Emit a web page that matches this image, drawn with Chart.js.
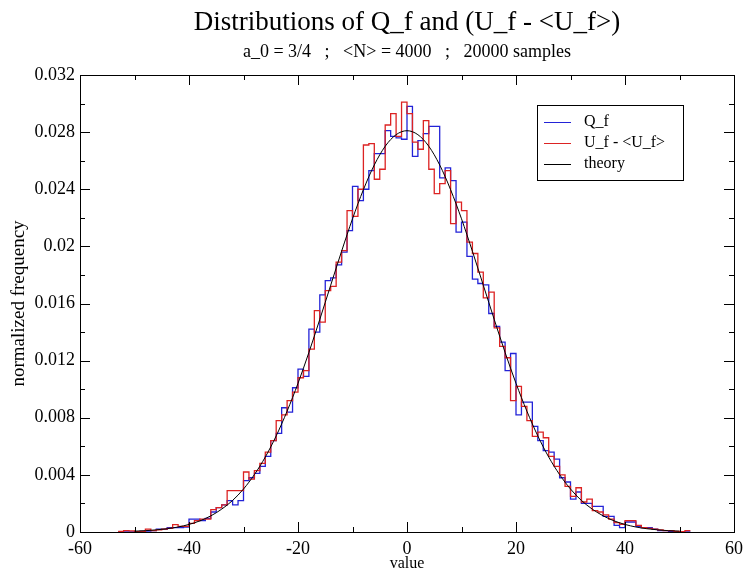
<!DOCTYPE html>
<html>
<head>
<meta charset="utf-8">
<script src="https://cdn.jsdelivr.net/npm/chart.js@4.4.1/dist/chart.umd.min.js"></script>
<style>
  html, body { margin: 0; padding: 0; background: #fff; }
</style>
</head>
<body>
<canvas id="chart" width="743" height="573"></canvas>
<script>
// Histogram bin edges (bins are [edge, edge+1])
const binEdges = [
  -53, -52, -51, -50, -49, -48, -47, -46, -45, -44, -43, -42, -41, -40, -39, -38,
  -37, -36, -35, -34, -33, -32, -31, -30, -29, -28, -27, -26, -25, -24, -23, -22,
  -21, -20, -19, -18, -17, -16, -15, -14, -13, -12, -11, -10, -9, -8, -7, -6,
  -5, -4, -3, -2, -1, 0, 1, 2, 3, 4, 5, 6, 7, 8, 9, 10,
  11, 12, 13, 14, 15, 16, 17, 18, 19, 20, 21, 22, 23, 24, 25, 26,
  27, 28, 29, 30, 31, 32, 33, 34, 35, 36, 37, 38, 39, 40, 41, 42,
  43, 44, 45, 46, 47, 48, 49, 50, 51, 52
];

// Q_f (blue)
const qfValues = [
  0, 0, 0, 0.00003, 0.00005, 0.00007, 0.0001, 0.0002, 0.00018, 0.0003, 0.0003, 0.0003, 0.00035, 0.0009, 0.0009, 0.0008,
  0.00095, 0.0014, 0.0017, 0.0019, 0.0022, 0.0019, 0.0022, 0.0036, 0.0038, 0.0041, 0.0046, 0.0053, 0.0064, 0.0069, 0.0087, 0.0084,
  0.0101, 0.0114, 0.0109, 0.0142, 0.0140, 0.0166, 0.0176, 0.0178, 0.0187, 0.0196, 0.0211, 0.0242, 0.0232, 0.0240, 0.0253, 0.0265,
  0.0265, 0.0281, 0.0277, 0.0276, 0.0275, 0.0298, 0.0263, 0.0274, 0.0279, 0.0284, 0.0284, 0.0248, 0.0255, 0.0246, 0.0210, 0.0217,
  0.0193, 0.0177, 0.0174, 0.0173, 0.0153, 0.0144, 0.0133, 0.0113, 0.0125, 0.0082, 0.0091, 0.0091, 0.0074, 0.0064, 0.0057, 0.0056,
  0.0051, 0.0038, 0.0035, 0.0023, 0.0028, 0.0020, 0.0020, 0.0018, 0.0018, 0.0011, 0.0011, 0.00047, 0.0003, 0.0007, 0.0007, 0.0004,
  0.0003, 0.0003, 0.0002, 0.0001, 0.0001, 0.00005, 0, 0, 0
];

// U_f - <U_f> (red)
const ufValues = [
  0.00005, 0.0001, 0.00008, 0.00003, 0.00005, 0.0002, 0.0001, 0.00015, 0.0002, 0.00025, 0.00052, 0.0004, 0.0004, 0.0006, 0.0008, 0.0009,
  0.0009, 0.00157, 0.0017, 0.0019, 0.0029, 0.0029, 0.0029, 0.0042, 0.0037, 0.0043, 0.0048, 0.0056, 0.0064, 0.0078, 0.0082, 0.0092,
  0.0098, 0.0108, 0.0113, 0.0128, 0.0155, 0.0147, 0.0169, 0.0172, 0.0189, 0.0197, 0.0225, 0.0221, 0.0240, 0.0271, 0.0272, 0.0247,
  0.0254, 0.0285, 0.0293, 0.0277, 0.0301, 0.0293, 0.0273, 0.0268, 0.0288, 0.0254, 0.0237, 0.0244, 0.0253, 0.0216, 0.0231, 0.0225,
  0.0203, 0.0195, 0.0182, 0.0164, 0.0168, 0.0143, 0.0130, 0.0122, 0.0092, 0.0102, 0.0088, 0.0078, 0.0067, 0.0070, 0.0066, 0.0053,
  0.0046, 0.0040, 0.0032, 0.0025, 0.0031, 0.0021, 0.0023, 0.0015, 0.0014, 0.0012, 0.0009, 0.00065, 0.00053, 0.0008, 0.0008, 0.00047,
  0.0003, 0.00025, 0.0002, 0.00015, 0.0001, 0.0001, 0.00005, 0.00003, 0.0001
];

// theory curve, read every 2 units
const theoryX = [
  -50, -48, -46, -44, -42, -40, -38, -36, -34, -32, -30, -28, -26, -24, -22, -20, -18,
  -16, -14, -12, -10, -8, -6, -4, -2, 0, 2, 4, 6, 8, 10, 12, 14,
  16, 18, 20, 22, 24, 26, 28, 30, 32, 34, 36, 38, 40, 42, 44, 46, 48, 50
];
const theoryY = [
  0.00006, 0.00009, 0.00015, 0.00023, 0.00035, 0.00053, 0.00078, 0.00113, 0.0016, 0.00221, 0.00301, 0.00402, 0.00525, 0.00673, 0.00846, 0.01041, 0.01257,
  0.01489, 0.01728, 0.01966, 0.02193, 0.02397, 0.0257, 0.02701, 0.02782, 0.0281, 0.02782, 0.02701, 0.0257, 0.02397, 0.02193, 0.01966, 0.01728,
  0.01489, 0.01257, 0.01041, 0.00846, 0.00673, 0.00525, 0.00402, 0.00301, 0.00221, 0.0016, 0.00113, 0.00078, 0.00053, 0.00035, 0.00023, 0.00015, 0.00009, 0.00006
];

const xTicks = [-60, -40, -20, 0, 20, 40, 60];
const xMinorTicks = [-50, -30, -10, 10, 30, 50];
const yTicks = [0, 0.004, 0.008, 0.012, 0.016, 0.02, 0.024, 0.028, 0.032];
const yTickLabels = ['0', '0.004', '0.008', '0.012', '0.016', '0.02', '0.024', '0.028', '0.032'];
const yMinorTicks = [0.002, 0.006, 0.01, 0.014, 0.018, 0.022, 0.026, 0.03];

const seriesNames = ['Q_f', 'U_f - <U_f>', 'theory'];
const BLUE = 'rgb(35, 35, 215)';
const RED = 'rgb(220, 35, 35)';
const SERIF = '"Liberation Serif", "DejaVu Serif", serif';

Chart.defaults.font.family = SERIF;
Chart.defaults.color = '#000';

// step outline: one point per left edge, plus the right edge of the last bin
function histPoints(values) {
  const pts = values.map((v, i) => ({ x: binEdges[i], y: v }));
  pts.push({ x: binEdges[values.length], y: values[values.length - 1] });
  return pts;
}

// frame, inward ticks, titles and legend
const decorPlugin = {
  id: 'decor',
  afterDraw(chart) {
    const { ctx, chartArea: a, scales: { x, y } } = chart;
    ctx.save();
    ctx.strokeStyle = '#000';
    ctx.lineWidth = 1;
    ctx.beginPath();
    const xt = (vals, len) => vals.forEach(v => {
      const px = Math.round(x.getPixelForValue(v)) + 0.5;
      ctx.moveTo(px, a.bottom); ctx.lineTo(px, a.bottom - len);
      ctx.moveTo(px, a.top); ctx.lineTo(px, a.top + len);
    });
    const yt = (vals, len) => vals.forEach(v => {
      const py = Math.round(y.getPixelForValue(v)) + 0.5;
      ctx.moveTo(a.left, py); ctx.lineTo(a.left + len, py);
      ctx.moveTo(a.right, py); ctx.lineTo(a.right - len, py);
    });
    xt(xTicks, 10); xt(xMinorTicks, 5);
    yt(yTicks, 10); yt(yMinorTicks, 5);
    ctx.stroke();
    ctx.strokeRect(Math.round(a.left) + 0.5, Math.round(a.top) + 0.5,
      Math.round(a.right - a.left), Math.round(a.bottom - a.top));

    // titles
    const cx = (a.left + a.right) / 2;
    ctx.fillStyle = '#000';
    ctx.textAlign = 'center';
    ctx.textBaseline = 'alphabetic';
    ctx.font = '27px ' + SERIF;
    ctx.fillText('Distributions of Q_f and (U_f - <U_f>)', cx, 30);
    ctx.font = '18px ' + SERIF;
    ctx.fillText('a_0 = 3/4   ;   <N> = 4000   ;   20000 samples', cx, 57);

    // legend box
    const lx = 537, ly = 105, lw = 146, lh = 75;
    ctx.fillStyle = '#fff';
    ctx.fillRect(lx, ly, lw, lh);
    ctx.strokeStyle = '#000';
    ctx.strokeRect(lx + 0.5, ly + 0.5, lw, lh);
    const colors = [BLUE, RED, '#000'];
    ctx.font = '16px ' + SERIF;
    ctx.textAlign = 'left';
    ctx.textBaseline = 'middle';
    seriesNames.forEach((name, i) => {
      const ry = 122 + i * 21;
      ctx.strokeStyle = colors[i];
      ctx.beginPath();
      ctx.moveTo(544, ry + 0.5); ctx.lineTo(571, ry + 0.5);
      ctx.stroke();
      ctx.fillStyle = '#000';
      ctx.fillText(name, 584, ry);
    });
    ctx.restore();
  }
};

new Chart(document.getElementById('chart'), {
  type: 'line',
  data: {
    datasets: [
      {
        label: seriesNames[2],
        data: theoryX.map((v, i) => ({ x: v, y: theoryY[i] })),
        borderColor: '#000',
        borderWidth: 1,
        cubicInterpolationMode: 'monotone',
        pointRadius: 0
      },
      {
        label: seriesNames[1],
        data: histPoints(ufValues),
        borderColor: RED,
        borderWidth: 1.3,
        stepped: 'before',
        pointRadius: 0
      },
      {
        label: seriesNames[0],
        data: histPoints(qfValues),
        borderColor: BLUE,
        borderWidth: 1.3,
        stepped: 'before',
        pointRadius: 0
      }
    ]
  },
  options: {
    responsive: false,
    animation: false,
    layout: { padding: { top: 75, right: 9, left: 0, bottom: 0 } },
    plugins: {
      legend: { display: false },
      tooltip: { enabled: false }
    },
    scales: {
      x: {
        type: 'linear',
        min: -60,
        max: 60,
        afterBuildTicks: s => { s.ticks = xTicks.map(v => ({ value: v })); },
        afterFit: s => { s.height = 41; s.paddingLeft = 0; s.paddingRight = 0; },
        grid: { display: false, drawTicks: false },
        border: { display: false },
        ticks: { font: { size: 18 }, padding: 6, maxRotation: 0, callback: v => String(v) },
        title: { display: true, text: 'value', font: { size: 16 }, padding: { top: 0, bottom: 0 } }
      },
      y: {
        type: 'linear',
        min: 0,
        max: 0.032,
        afterBuildTicks: s => { s.ticks = yTicks.map(v => ({ value: v })); },
        afterFit: s => { s.width = 80; },
        grid: { display: false, drawTicks: false },
        border: { display: false },
        ticks: { font: { size: 18 }, padding: 5, callback: (v, i) => yTickLabels[i] },
        title: { display: true, text: 'normalized frequency', font: { size: 19 }, padding: { top: 8, bottom: 0 } }
      }
    }
  },
  plugins: [decorPlugin]
});
</script>
</body>
</html>
